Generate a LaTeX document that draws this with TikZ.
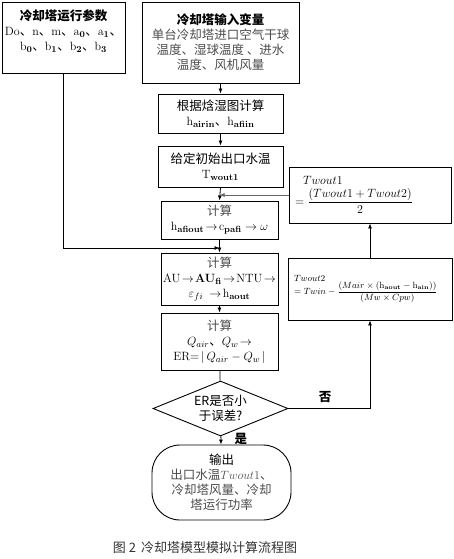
\documentclass[tikz,border=0pt]{standalone}
\usepackage[no-math]{fontspec}
\setmainfont{Noto Sans CJK SC}
\usetikzlibrary{shapes.geometric,arrows.meta}
\tikzset{
  flowbox/.style={draw,line width=0.9pt,align=center,inner sep=2pt,
    font=\fontsize{12.5}{15}\selectfont},
  bodytext/.style={text=black!70},
  flowarrow/.style={-{Latex[length=5pt,width=4pt]},line width=0.8pt},
  marktext/.style={font=\fontsize{12.5}{15}\selectfont\bfseries},
}
\begin{document}
\begin{tikzpicture}[x=1pt,y=-1pt]
  \useasboundingbox (0,0) rectangle (454,559);
  % left input block and the main column
  \node[flowbox,minimum width=123,minimum height=71] (param) at (63.5,37.5)
    {{\bfseries 冷却塔运行参数}\\
     $\mathrm{Do}$、$\mathrm{n}$、$\mathrm{m}$、$\mathrm{a}_{\mathbf{0}}$、$\mathrm{a}_{\mathbf{1}}$、\\
     $\mathrm{b}_{\mathbf{0}}$、$\mathrm{b}_{\mathbf{1}}$、$\mathrm{b}_{\mathbf{2}}$、$\mathrm{b}_{\mathbf{3}}$\\ ~};
  \node[flowbox,bodytext,minimum width=157,minimum height=81] (input) at (220.5,42.5)
    {{\color{black}\bfseries 冷却塔输入变量}\\ 单台冷却塔进口空气干球\\ 温度、湿球温度 、进水\\ 温度、风机风量};
  \node[flowbox,minimum width=125,minimum height=39] (psy) at (220.5,113.5)
    {根据焓湿图计算\\ $\mathrm{h}_{\mathbf{airin}}$、$\mathrm{h}_{\mathbf{afiin}}$};
  \node[flowbox,minimum width=125,minimum height=41] (guess) at (220.5,166.5)
    {给定初始出口水温\\ $\mathrm{T}_{\mathbf{wout1}}$};
  \node[flowbox,minimum width=117,minimum height=38] (calcA) at (219.5,220)
    {{\color{black!70}计算}\\ $\mathrm{h}_{\mathbf{afiout}}\!\to\!\mathrm{c}_{\mathbf{pafi}}\to\omega$};
  \node[flowbox,minimum width=117,minimum height=52] (calcB) at (219.5,279)
    {{\color{black!70}计算}\\ $\mathrm{AU}\!\to\!\mathbf{AU}_{\mathbf{fi}}\!\to\!\mathrm{NTU}\!\to$\\ $\varepsilon_{fi}\ \to\!\mathrm{h}_{\mathbf{aout}}$};
  \node[flowbox,minimum width=117,minimum height=57] (calcC) at (219.5,341.5)
    {{\color{black!70}计算}\\ $Q_{air}$、$Q_w\!\to$\\ $\mathrm{ER}{=}\,|\,Q_{air}-Q_w\,|$};
  \node[flowbox,diamond,aspect=2.45,inner sep=0pt,minimum width=135,minimum height=55] (check) at (220.5,408.5)
    {ER是否小\\ 于误差?};
  \node[flowbox,bodytext,rounded corners=28pt,minimum width=139,minimum height=75] (result) at (221.5,482.5)
    {{\color{black}输出}\\ 出口水温$Twout1$、\\ 冷却塔风量、冷却\\ 塔运行功率};
  % update loop on the right
  \node[flowbox,align=left,text width=150,minimum height=56,inner sep=6pt] (newT) at (370,195)
    {\hspace*{8pt}$Twout1$\\[3pt] $\displaystyle=\frac{(Twout1+Twout2)}{2}$};
  \node[flowbox,align=left,text width=152,minimum height=62,inner sep=6pt,
    font=\fontsize{9}{11}\selectfont] (outT) at (370,289)
    {$Twout2$\\ $\displaystyle=Twin-\frac{(Mair\times(\mathrm{h}_{\mathbf{aout}}-\mathrm{h}_{\mathbf{ain}}))}{(Mw\times Cpw)}$\\[6pt]};
  % connectors
  \coordinate (bend) at (param.south |- 0,248);
  \coordinate (join) at (calcB.north |- 0,248);
  \coordinate (back) at (calcA.north |- newT.west);
  \coordinate (turn) at (outT.south |- check.east);
  \draw[flowarrow] (input) -- (psy);
  \draw[flowarrow] (psy) -- (guess);
  \draw[flowarrow] (guess.south) -- (calcA.north);
  \draw[flowarrow] (calcA) -- (calcB);
  \draw[flowarrow] (calcB) -- (calcC);
  \draw[line width=0.8pt] (calcC) -- (check);
  \draw[flowarrow] (check) -- (result) node[pos=0.3,right=10pt,marktext] (yes) {是};
  \draw[flowarrow] (check.east) -- node[pos=0.45,above=2pt,marktext] (no) {否} (turn) -- (outT.south);
  \draw[flowarrow] (outT) -- (newT);
  \draw[flowarrow,black!60] (newT.west) -- (back);
  \draw[flowarrow] (param.south) -- (bend) -- (join);
  % caption
  \node[text=black!80,font=\fontsize{13}{15}\selectfont] (caption) at (205,548) {图 2\, 冷却塔模型模拟计算流程图};
\end{tikzpicture}
\end{document}
